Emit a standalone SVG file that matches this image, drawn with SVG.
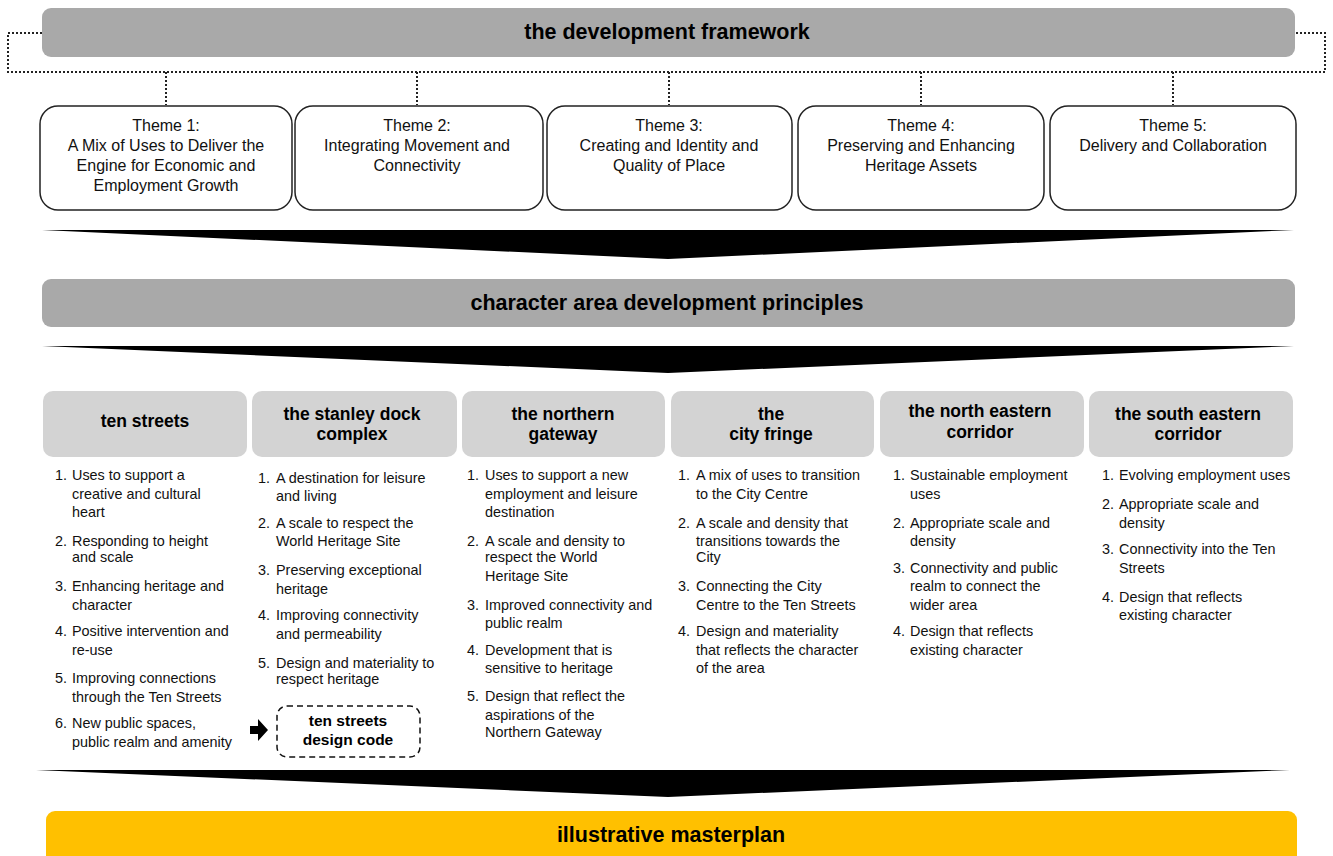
<svg xmlns="http://www.w3.org/2000/svg" width="1333" height="856" viewBox="0 0 1333 856">
<style>
.bar{fill:#a9a9a9}
.hdr{fill:#d3d3d3}
.theme{fill:#fff;stroke:#222;stroke-width:1.5}
.dot{fill:none;stroke:#222;stroke-width:2;stroke-dasharray:2 2}
.chev{fill:#000}
.t{font-family:"Liberation Sans",Arial,sans-serif;fill:#111}
.bt{font-family:"Liberation Sans",Arial,sans-serif;font-weight:bold;fill:#000}
.th{font-size:16px;text-anchor:middle}
.li{font-size:14.4px}
.h{font-size:17.5px;text-anchor:middle}
.big{font-size:21.5px;text-anchor:middle}
</style>
<g id="connectors">
<path class="dot" d="M42,33 H8 V72 H1325 V33 H1295"/>
<path class="dot" d="M166,72 V105 M417,72 V105 M669,72 V105 M921,72 V105 M1173,72 V105"/>
<polygon class="chev" points="42,230 1294,230 668,259"/>
<polygon class="chev" points="42,346 1294,346 668,373"/>
<polygon class="chev" points="36,770 1290,770 668,797"/>
<path d="M250,726 h8 v-7 l10,11 l-10,11 v-7 h-8 z" fill="#000"/>
</g>
<g id="framework">
<rect class="bar" x="42" y="8" width="1253" height="49" rx="9"/>
<text class="bt big" x="667" y="39">the development framework</text>
</g>
<g id="theme1">
<rect class="theme" x="40" y="106" width="252" height="104" rx="18"/>
<text class="t th" x="166" y="131">Theme 1:<tspan x="166" dy="20">A Mix of Uses to Deliver the</tspan><tspan x="166" dy="20">Engine for Economic and</tspan><tspan x="166" dy="20">Employment Growth</tspan></text>
</g>
<g id="theme2">
<rect class="theme" x="295" y="106" width="248" height="104" rx="18"/>
<text class="t th" x="417" y="131">Theme 2:<tspan x="417" dy="20">Integrating Movement and</tspan><tspan x="417" dy="20">Connectivity</tspan></text>
</g>
<g id="theme3">
<rect class="theme" x="547" y="106" width="245" height="104" rx="18"/>
<text class="t th" x="669" y="131">Theme 3:<tspan x="669" dy="20">Creating and Identity and</tspan><tspan x="669" dy="20">Quality of Place</tspan></text>
</g>
<g id="theme4">
<rect class="theme" x="798" y="106" width="246" height="104" rx="18"/>
<text class="t th" x="921" y="131">Theme 4:<tspan x="921" dy="20">Preserving and Enhancing</tspan><tspan x="921" dy="20">Heritage Assets</tspan></text>
</g>
<g id="theme5">
<rect class="theme" x="1050" y="106" width="246" height="104" rx="18"/>
<text class="t th" x="1173" y="131">Theme 5:<tspan x="1173" dy="20">Delivery and Collaboration</tspan></text>
</g>
<g id="principles">
<rect class="bar" x="42" y="279" width="1253" height="48" rx="9"/>
<text class="bt big" x="667" y="310">character area development principles</text>
</g>
<g id="ten-streets">
<rect class="hdr" x="43" y="391" width="204" height="66" rx="10"/>
<text class="bt h" x="145" y="427">ten streets</text>
<g class="t li">
<text x="55" y="480">1.</text><text x="72" y="480">Uses to support a</text><text x="72" y="499">creative and cultural</text><text x="72" y="517">heart</text>
<text x="55" y="546">2.</text><text x="72" y="546">Responding to height</text><text x="72" y="562">and scale</text>
<text x="55" y="591">3.</text><text x="72" y="591">Enhancing heritage and</text><text x="72" y="610">character</text>
<text x="55" y="636">4.</text><text x="72" y="636">Positive intervention and</text><text x="72" y="655">re-use</text>
<text x="55" y="683">5.</text><text x="72" y="683">Improving connections</text><text x="72" y="702">through the Ten Streets</text>
<text x="55" y="728">6.</text><text x="72" y="728">New public spaces,</text><text x="72" y="747">public realm and amenity</text>
</g>
</g>
<g id="stanley-dock">
<rect class="hdr" x="252" y="391" width="205" height="66" rx="10"/>
<text class="bt h" x="352" y="420">the stanley dock<tspan x="352" dy="20">complex</tspan></text>
<g class="t li">
<text x="258" y="483">1.</text><text x="276" y="483">A destination for leisure</text><text x="276" y="501">and living</text>
<text x="258" y="528">2.</text><text x="276" y="528">A scale to respect the</text><text x="276" y="546">World Heritage Site</text>
<text x="258" y="575">3.</text><text x="276" y="575">Preserving exceptional</text><text x="276" y="594">heritage</text>
<text x="258" y="620">4.</text><text x="276" y="620">Improving connectivity</text><text x="276" y="639">and permeability</text>
<text x="258" y="668">5.</text><text x="276" y="668">Design and materiality to</text><text x="276" y="684">respect heritage</text>
</g>
</g>
<g id="design-code">
<rect x="277" y="706" width="143" height="51" rx="10" fill="#fff" stroke="#111" stroke-width="1.5" stroke-dasharray="6 4"/>
<text class="bt" x="348" y="726" font-size="15.5" text-anchor="middle">ten streets<tspan x="348" dy="19">design code</tspan></text>
</g>
<g id="northern-gateway">
<rect class="hdr" x="462" y="391" width="203" height="66" rx="10"/>
<text class="bt h" x="563" y="420">the northern<tspan x="563" dy="20">gateway</tspan></text>
<g class="t li">
<text x="467" y="480">1.</text><text x="485" y="480">Uses to support a new</text><text x="485" y="499">employment and leisure</text><text x="485" y="517">destination</text>
<text x="467" y="546">2.</text><text x="485" y="546">A scale and density to</text><text x="485" y="562">respect the World</text><text x="485" y="581">Heritage Site</text>
<text x="467" y="610">3.</text><text x="485" y="610">Improved connectivity and</text><text x="485" y="628">public realm</text>
<text x="467" y="655">4.</text><text x="485" y="655">Development that is</text><text x="485" y="673">sensitive to heritage</text>
<text x="467" y="701">5.</text><text x="485" y="701">Design that reflect the</text><text x="485" y="720">aspirations of the</text><text x="485" y="737">Northern Gateway</text>
</g>
</g>
<g id="city-fringe">
<rect class="hdr" x="671" y="391" width="203" height="66" rx="10"/>
<text class="bt h" x="771" y="420">the<tspan x="771" dy="20">city fringe</tspan></text>
<g class="t li">
<text x="678" y="480">1.</text><text x="696" y="480">A mix of uses to transition</text><text x="696" y="499">to the City Centre</text>
<text x="678" y="528">2.</text><text x="696" y="528">A scale and density that</text><text x="696" y="546">transitions towards the</text><text x="696" y="562">City</text>
<text x="678" y="591">3.</text><text x="696" y="591">Connecting the City</text><text x="696" y="610">Centre to the Ten Streets</text>
<text x="678" y="636">4.</text><text x="696" y="636">Design and materiality</text><text x="696" y="655">that reflects the character</text><text x="696" y="673">of the area</text>
</g>
</g>
<g id="north-eastern">
<rect class="hdr" x="880" y="391" width="204" height="66" rx="10"/>
<text class="bt h" x="980" y="417">the north eastern<tspan x="980" dy="21">corridor</tspan></text>
<g class="t li">
<text x="893" y="480">1.</text><text x="910" y="480">Sustainable employment</text><text x="910" y="499">uses</text>
<text x="893" y="528">2.</text><text x="910" y="528">Appropriate scale and</text><text x="910" y="546">density</text>
<text x="893" y="573">3.</text><text x="910" y="573">Connectivity and public</text><text x="910" y="591">realm to connect the</text><text x="910" y="610">wider area</text>
<text x="893" y="636">4.</text><text x="910" y="636">Design that reflects</text><text x="910" y="655">existing character</text>
</g>
</g>
<g id="south-eastern">
<rect class="hdr" x="1089" y="391" width="204" height="66" rx="10"/>
<text class="bt h" x="1188" y="420">the south eastern<tspan x="1188" dy="20">corridor</tspan></text>
<g class="t li">
<text x="1102" y="480">1.</text><text x="1119" y="480">Evolving employment uses</text>
<text x="1102" y="509">2.</text><text x="1119" y="509">Appropriate scale and</text><text x="1119" y="528">density</text>
<text x="1102" y="554">3.</text><text x="1119" y="554">Connectivity into the Ten</text><text x="1119" y="573">Streets</text>
<text x="1102" y="602">4.</text><text x="1119" y="602">Design that reflects</text><text x="1119" y="620">existing character</text>
</g>
</g>
<g id="masterplan">
<rect x="46" y="811" width="1251" height="60" rx="9" fill="#ffc000"/>
<text class="bt big" x="671" y="842">illustrative masterplan</text>
</g>
</svg>
